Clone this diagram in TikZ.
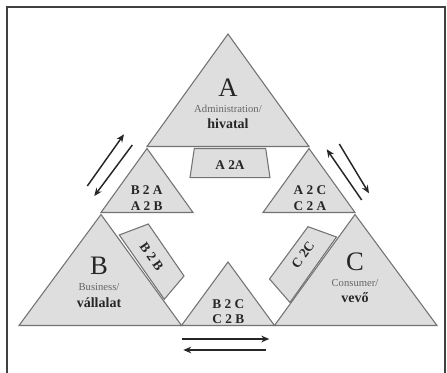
\documentclass[tikz,border=0pt]{standalone}
\usepackage{fontspec}
\setmainfont{Liberation Serif}
\usetikzlibrary{arrows.meta}
\definecolor{triFill}{RGB}{222,222,222}
\definecolor{triLine}{RGB}{115,115,115}
\definecolor{inkDark}{RGB}{38,38,38}
\tikzset{
  tri/.style={draw=triLine, fill=triFill, line width=0.8pt, line join=miter},
  pairlbl/.style={inner sep=0.75pt, text=inkDark, align=center, font=\bfseries\fontsize{10}{11.5}\selectfont},
  biglbl/.style={inner sep=0.75pt, text=inkDark, font=\fontsize{20}{20}\selectfont},
  sublbl/.style={inner sep=0.75pt, text=black!60, font=\fontsize{8}{9}\selectfont},
  boldlbl/.style={inner sep=0.75pt, text=inkDark, font=\bfseries\fontsize{10.5}{11}\selectfont},
  flow/.style={draw=inkDark, line width=1.1pt, -{Stealth[length=6pt,width=5pt]}}
}
\begin{document}
\begin{tikzpicture}[x=0.75pt,y=0.75pt,yscale=-1,xscale=1]
    \useasboundingbox (0,0) rectangle (447,373);
    %Frame
    \draw[black!75, line width=0.8pt] (7,373) -- (7,7) -- (445,7) -- (445,373);
    %Shape: Trapezoid [A2A]
    \draw[tri] (194.3,148.5) -- (265.7,148.5) -- (270,177.7) -- (190,177.7) -- cycle ;
    %Shape: Trapezoid [B2B]
    \draw[tri] (119.3,235) -- (148.3,224) -- (184,276) -- (164.3,299.3) -- cycle ;
    %Shape: Trapezoid [C2C]
    \draw[tri] (308,226.7) -- (336.5,237) -- (290,302.5) -- (269.5,279) -- cycle ;
    %Shape: Triangle [A]
    \draw[tri] (228,34) -- (309,146.5) -- (147,146.5) -- cycle ;
    %Shape: Triangle [B2A]
    \draw[tri] (147,148.5) -- (193,212.5) -- (101,212.5) -- cycle ;
    %Shape: Triangle [A2C]
    \draw[tri] (309,148.5) -- (355,212.5) -- (263,212.5) -- cycle ;
    %Shape: Triangle [B]
    \draw[tri] (101,214.5) -- (181.5,325.5) -- (19,325.5) -- cycle ;
    %Shape: Triangle [C]
    \draw[tri] (355,214.5) -- (437,325.5) -- (274.5,325.5) -- cycle ;
    %Shape: Triangle [B2C]
    \draw[tri] (228,262) -- (274.5,325.5) -- (181.5,325.5) -- cycle ;
    % Text Node
    \node[biglbl] (ltrA) at (228,88) {A};
    \node[sublbl] (subA) at (228,108.5) {Administration/};
    \node[boldlbl] (huA) at (228,123.5) {hivatal};
    % Text Node
    \node[biglbl] (ltrB) at (99,266) {B};
    \node[sublbl] (subB) at (99,287.5) {Business/};
    \node[boldlbl] (huB) at (99,302.5) {vállalat};
    % Text Node
    \node[biglbl] (ltrC) at (355,261.5) {C};
    \node[sublbl] (subC) at (355,283) {Consumer/};
    \node[boldlbl] (huC) at (355,297.5) {vevő};
    % Text Node
    \node[pairlbl] (pAA) at (230,165) {A 2A};
    \node[pairlbl] (pBA) at (146.7,198) {B 2 A\\A 2 B};
    \node[pairlbl] (pAC) at (310,198) {A 2 C\\C 2 A};
    \node[pairlbl] (pBC) at (228.3,311.5) {B 2 C\\C 2 B};
    \node[pairlbl, rotate=-55] (pBB) at (151.7,256.5) {B 2 B};
    \node[pairlbl, rotate=54] (pCC) at (303,255) {C 2C};
    %Arrows
    \coordinate (ba1) at (87.3,186);
    \coordinate (ba2) at (124,134.3);
    \coordinate (ba3) at (132.3,145);
    \coordinate (ba4) at (94.3,196);
    \coordinate (ac1) at (361.7,200);
    \coordinate (ac2) at (326.7,149.3);
    \coordinate (ac3) at (339.3,144);
    \coordinate (ac4) at (369,193.3);
    \coordinate (bc1) at (182.3,339);
    \coordinate (bc2) at (269.3,339);
    \coordinate (bc3) at (265.7,350);
    \coordinate (bc4) at (183.3,350);
    \draw[flow] (ba1) -- (ba2);
    \draw[flow] (ba3) -- (ba4);
    \draw[flow] (ac1) -- (ac2);
    \draw[flow] (ac3) -- (ac4);
    \draw[flow] (bc1) -- (bc2);
    \draw[flow] (bc3) -- (bc4);
\end{tikzpicture}
\end{document}
